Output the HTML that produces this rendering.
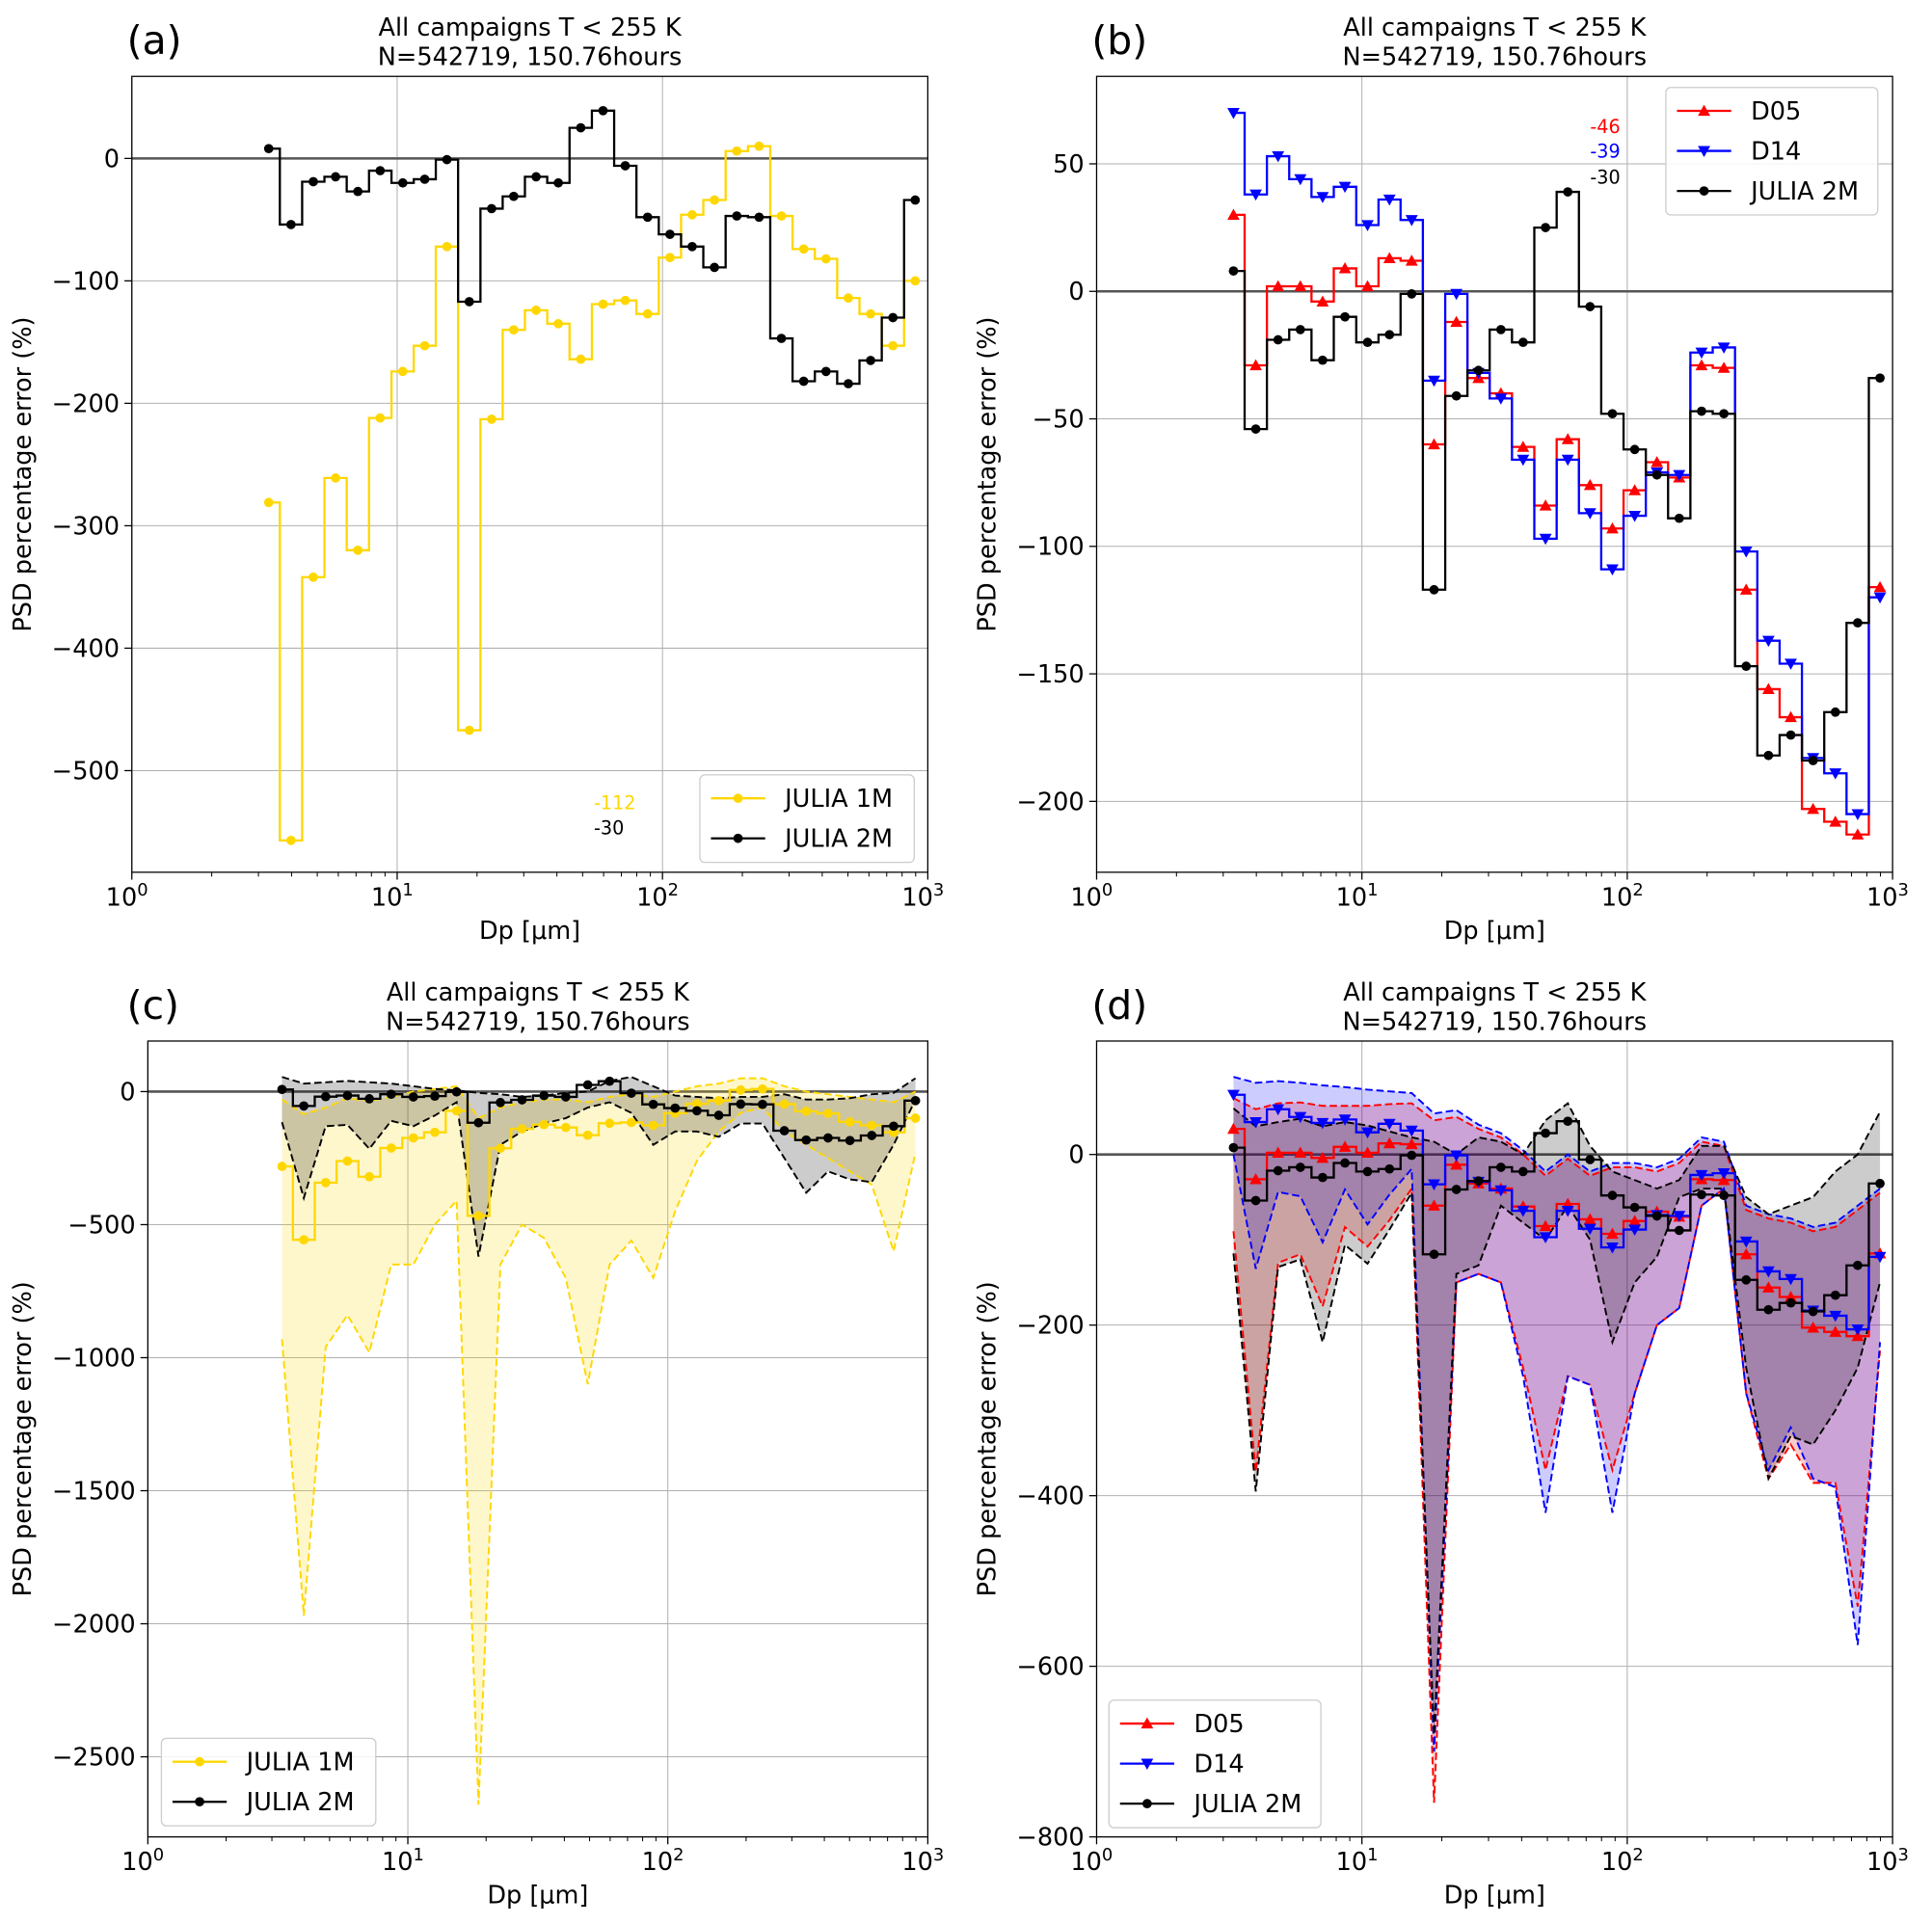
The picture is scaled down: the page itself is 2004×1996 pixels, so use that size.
<!DOCTYPE html>
<html><head><meta charset="utf-8"><style>
html,body{margin:0;padding:0;background:#fff}
svg{display:block;font-family:"DejaVu Sans","Liberation Sans",sans-serif}
</style></head><body>
<svg id="fig" width="2004" height="1996" viewBox="0 0 1568 1561.7" preserveAspectRatio="none" xmlns="http://www.w3.org/2000/svg"></svg>
<script>
// ---- data ----
const diam = [3.28,3.98,4.83,5.86,7.11,8.63,10.5,12.7,15.4,18.7,22.7,27.5,33.4,40.5,49.2,59.7,72.4,87.9,106.7,129.4,157,190.6,231.3,280.7,340.6,413.4,501.7,608.8,738.8,896.6];
const julia2m = [8,-54,-19,-15,-27,-10,-20,-17,-1,-117,-41,-31,-15,-20,25,39,-6,-48,-62,-72,-89,-47,-48,-147,-182,-174,-184,-165,-130,-34];
const julia1m = [-281,-557,-342,-261,-320,-212,-174,-153,-72,-467,-213,-140,-124,-135,-164,-119,-116,-127,-81,-46,-34,6,10,-47,-74,-82,-114,-127,-153,-100];
const d05 = [30,-29,2,2,-4,9,2,13,12,-60,-12,-34,-40,-61,-84,-58,-76,-93,-78,-67,-73,-29,-30,-117,-156,-167,-203,-208,-213,-116];
const d14 = [70,38,53,44,37,41,26,36,28,-35,-1,-32,-42,-66,-97,-66,-87,-109,-88,-71,-72,-24,-22,-102,-137,-146,-183,-189,-205,-120];
// panel (c) bands
const c2mUpper = [55,30,35,40,35,30,20,10,5,-5,-10,-20,-15,-5,0,40,55,20,-15,-20,-25,-20,-20,-10,-30,-30,-25,-10,-5,50];
const c2mLower = [-115,-400,-130,-125,-215,-110,-130,-90,-40,-620,-200,-150,-120,-100,-60,-40,-80,-200,-150,-150,-170,-120,-120,-250,-380,-300,-330,-340,-200,-30];
const c1mUpper = [-30,-85,-60,-25,-35,-20,0,10,20,-100,-60,-40,-30,-30,-40,-20,-10,-20,0,20,30,50,50,20,0,-10,-20,-30,-40,0];
const c1mLower = [-930,-1970,-960,-840,-980,-650,-650,-500,-410,-2680,-650,-500,-550,-700,-1100,-650,-560,-700,-450,-260,-150,-80,-60,-150,-200,-250,-300,-350,-600,-230];
// panel (d) bands
const dBlueUpper = [91,84,86,84,81,79,76,74,72,48,52,35,25,5,-20,0,-20,-10,-10,-15,-5,20,15,-60,-70,-75,-85,-80,-60,-40];
const dBlueLower = [0,-134,-44,-49,-103,-41,-82,-47,-17,-700,-150,-140,-150,-260,-420,-260,-270,-420,-280,-200,-180,-60,-40,-280,-370,-320,-380,-390,-575,-220];
const dRedUpper = [66,53,60,61,57,57,57,59,60,40,44,30,20,0,-25,-5,-25,-15,-15,-20,-10,15,10,-65,-75,-80,-90,-85,-65,-45];
const dRedLower = [-90,-372,-127,-117,-178,-85,-108,-77,-40,-760,-150,-140,-150,-250,-370,-260,-270,-370,-280,-200,-180,-60,-40,-280,-380,-340,-385,-385,-530,-230];
const dBlkUpper = [54,33,38,42,33,38,34,27,20,15,0,20,15,0,40,60,10,-20,-30,-40,-30,10,10,-50,-70,-60,-50,-20,0,50];
const dBlkLower = [-116,-395,-132,-123,-220,-106,-128,-88,-45,-680,-140,-130,-60,-80,-100,-60,-100,-220,-150,-120,-50,-40,-40,-250,-380,-330,-340,-300,-250,-150];

const yticksA = [0,-100,-200,-300,-400,-500];
const yticksB = [50,0,-50,-100,-150,-200];
const yticksC = [0,-500,-1000,-1500,-2000,-2500];
const yticksD = [0,-200,-400,-600,-800];
const xdecades = [0,1,2,3];

const NS = "http://www.w3.org/2000/svg";
const svg = document.getElementById('fig');
function mk(tag, attrs, parent){
  const e = document.createElementNS(NS, tag);
  for (const k in attrs) e.setAttribute(k, attrs[k]);
  (parent||svg).appendChild(e);
  return e;
}
function txt(s, attrs, parent){ const t = mk('text', attrs, parent); t.textContent = s; return t; }
function fmt(v){ return v<0 ? '\u2212'+Math.abs(v) : ''+v; }

function makePanel(id, cfg){
  const g = mk('g', {});
  
  
  const L=cfg.left, T=cfg.top, W=cfg.w||646, H=646;
  const sx = v => L + Math.log10(v)/3*W;
  const sy = v => T + (cfg.ymax - v)/(cfg.ymax - cfg.ymin)*H;
  const cp = mk('clipPath', {id:'clip'+id}, g);
  mk('rect', {x:L, y:T, width:W, height:H}, cp);
  xdecades.forEach(d => { const x=sx(Math.pow(10,d)); const l=mk('line',{x1:x,x2:x,y1:T,y2:T+H,stroke:'#b0b0b0','stroke-width':0.8},g);
      });
  cfg.yticks.forEach(v => { const y=sy(v); const l=mk('line',{x1:L,x2:L+W,y1:y,y2:y,stroke:'#b0b0b0','stroke-width':0.8},g);
      });
  const pg = mk('g', {'clip-path':'url(#clip'+id+')'}, g);
  const z = mk('line',{x1:L,x2:L+W,y1:sy(0),y2:sy(0),stroke:'#555','stroke-width':2},pg);
   
  (cfg.bands||[]).forEach(b => {
    let pts = diam.map((d,i)=>sx(d)+','+sy(b.up[i]));
    let lo = diam.map((d,i)=>sx(d)+','+sy(b.lo[i])).reverse();
    const p = mk('polygon',{points:pts.concat(lo).join(' '),fill:b.fill,stroke:'none'},pg);
     
  });
  (cfg.bands||[]).forEach(b => {
    [b.up,b.lo].forEach((arr,k) => {
      const pl = mk('polyline',{points:diam.map((d,i)=>sx(d)+','+sy(arr[i])).join(' '),fill:'none',stroke:b.edge,'stroke-width':1.5,'stroke-dasharray':'6,3'},pg);
       
    });
  });
  cfg.series.forEach(s => {
    const xs = diam.map(sx), ys = s.vals.map(sy);
    let d = 'M'+xs[0]+','+ys[0];
    for (let i=1;i<xs.length;i++){ const m=(xs[i-1]+xs[i])/2; d+=' H'+m+' V'+ys[i]; }
    d += ' H'+xs[xs.length-1];
    const p = mk('path',{d:d,fill:'none',stroke:s.color,'stroke-width':1.8},pg);
     
    xs.forEach((x,i)=>{
      const m = marker(s.mk, x, ys[i], s.color, pg);
       
    });
  });
  const fr = mk('rect',{x:L,y:T,width:W,height:H,fill:'none',stroke:'#000','stroke-width':1},g);
   
  xdecades.forEach(dd => {
    const x=sx(Math.pow(10,dd));
    mk('line',{x1:x,x2:x,y1:T+H,y2:T+H+6,stroke:'#000','stroke-width':1},g);
    const t = txt('10',{x:x-4,y:T+H+27,'font-size':20,'text-anchor':'middle'},g);
    const sp = mk('tspan',{dy:-8,'font-size':14},t); sp.textContent=''+dd;
     
    if (dd<3) for (let k=2;k<10;k++){ const xm=sx(k*Math.pow(10,dd)); mk('line',{x1:xm,x2:xm,y1:T+H,y2:T+H+3.5,stroke:'#000','stroke-width':0.8},g); }
  });
  cfg.yticks.forEach(v => {
    const y=sy(v);
    mk('line',{x1:L-6,x2:L,y1:y,y2:y,stroke:'#000','stroke-width':1},g);
    const t = txt(fmt(v),{x:L-10,y:y+7,'font-size':20,'text-anchor':'end'},g);
     
  });
  const xl = txt('Dp [\u03bcm]',{x:L+W/2,y:T+H+54,'font-size':20,'text-anchor':'middle'},g);
   
  const yl = txt('PSD percentage error (%)',{x:0,y:0,'font-size':20,'text-anchor':'middle',transform:'translate('+(cfg.ylx)+','+(T+H/2)+') rotate(-90)'},g);
   
  const t1 = txt('All campaigns T < 255 K',{x:L+W/2,y:T-33,'font-size':20,'text-anchor':'middle'},g);
   
  const t2 = txt('N=542719, 150.76hours',{x:L+W/2,y:T-9,'font-size':20,'text-anchor':'middle'},g);
   
  const pl = txt('('+id+')',{x:cfg.lx,y:T-18,'font-size':32},g);
   
  const lg = cfg.legend;
  const lgg = mk('g',{},g);
   
  mk('rect',{x:lg.x,y:lg.y,width:lg.w,height:lg.n*32.5+6,rx:4,fill:'#fff','fill-opacity':0.85,stroke:'#ccc','stroke-width':1},lgg);
  cfg.series.forEach((s,i)=>{
    const y = lg.y+19+i*32.5;
    const e = mk('g',{},lgg);
     
    mk('line',{x1:lg.x+9,x2:lg.x+53,y1:y,y2:y,stroke:s.color,'stroke-width':1.8},e);
    marker(s.mk, lg.x+31, y, s.color, e);
    txt(s.label,{x:lg.x+69,y:y+7,'font-size':20},e);
  });
  (cfg.notes||[]).forEach(n=>{
    const t = txt(n.t,{x:n.x,y:n.y,'font-size':15,fill:n.c,'text-anchor':n.a||'start'},g);
     
  });
}
function marker(kind,x,y,c,parent){
  if (kind==='o') return mk('circle',{cx:x,cy:y,r:3.8,fill:c},parent);
  if (kind==='^') return mk('polygon',{points:`${x},${y-5} ${x-5},${y+4} ${x+5},${y+4}`,fill:c},parent);
  return mk('polygon',{points:`${x},${y+5} ${x-5},${y-4} ${x+5},${y-4}`,fill:c},parent);
}
const S1M = {name:'julia-1m',label:'JULIA 1M',vals:julia1m,color:'#FFD700',mk:'o'};
const S2M = {name:'julia-2m',label:'JULIA 2M',vals:julia2m,color:'#000',mk:'o'};
const SD05 = {name:'d05',label:'D05',vals:d05,color:'#ff0000',mk:'^'};
const SD14 = {name:'d14',label:'D14',vals:d14,color:'#0000ff',mk:'v'};

makePanel('a',{left:107,top:62,ymin:-583,ymax:67,yticks:yticksA,series:[S1M,S2M],ylx:25,lx:103,
  legend:{x:568,y:629,w:174,n:2},
  notes:[{t:'-112',x:482,y:657,c:'#FFD700'},{t:'-30',x:482,y:677,c:'#000'}]});
makePanel('b',{left:890,top:62,ymin:-227.8,ymax:84.3,yticks:yticksB,series:[SD05,SD14,S2M],ylx:808,lx:886,
  legend:{x:1352,y:71,w:172,n:3},
  notes:[{t:'-46',x:1315,y:108,c:'#ff0000',a:'end'},{t:'-39',x:1315,y:128,c:'#0000ff',a:'end'},{t:'-30',x:1315,y:149,c:'#000',a:'end'}]});
makePanel('c',{left:120,w:633,top:845,ymin:-2801,ymax:190,yticks:yticksC,series:[S1M,S2M],ylx:25,lx:103,
  bands:[{name:'julia-1m',up:c1mUpper,lo:c1mLower,fill:'rgba(255,215,0,0.2)',edge:'#FFD700'},
         {name:'julia-2m',up:c2mUpper,lo:c2mLower,fill:'rgba(0,0,0,0.2)',edge:'#000'}],
  legend:{x:131,y:1411,w:174,n:2}});
makePanel('d',{left:890,top:845,ymin:-800,ymax:133,yticks:yticksD,series:[SD05,SD14,S2M],ylx:808,lx:886,
  bands:[{name:'d05',up:dRedUpper,lo:dRedLower,fill:'rgba(255,0,0,0.2)',edge:'#ff0000'},
         {name:'d14',up:dBlueUpper,lo:dBlueLower,fill:'rgba(0,0,255,0.2)',edge:'#0000ff'},
         {name:'julia-2m',up:dBlkUpper,lo:dBlkLower,fill:'rgba(0,0,0,0.2)',edge:'#000'}],
  legend:{x:900,y:1380,w:172,n:3}});
</script>
</body></html>
